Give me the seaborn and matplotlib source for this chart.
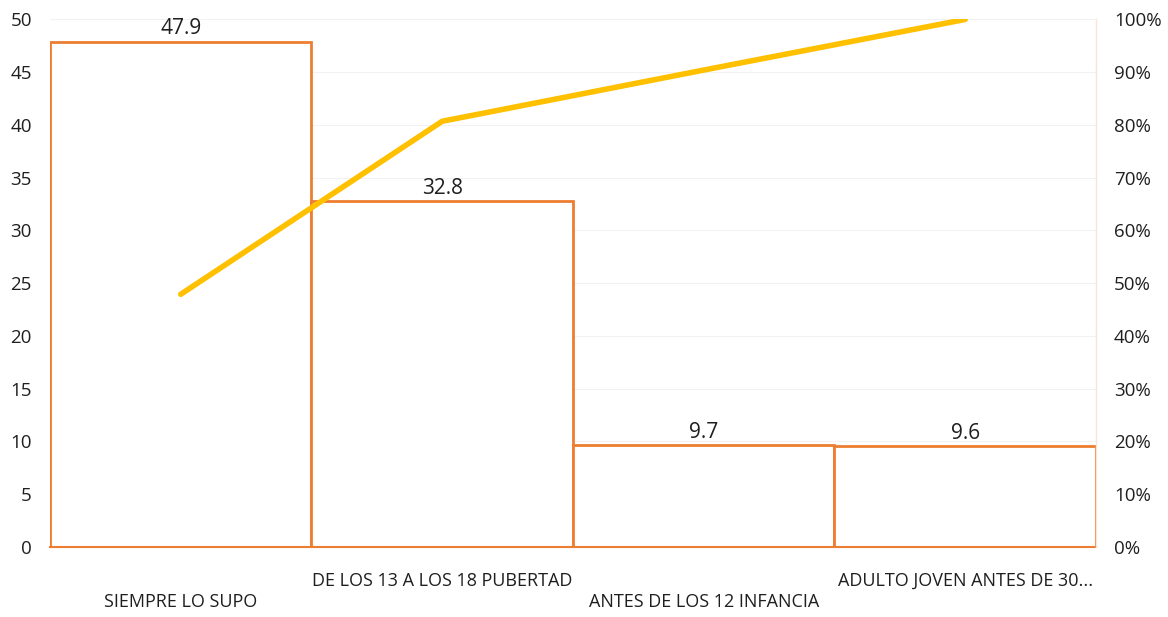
import numpy as np
import pandas as pd
import matplotlib
matplotlib.use('Agg')
import matplotlib.pyplot as plt
import seaborn as sns
from matplotlib.ticker import PercentFormatter

# ── Data ───────────────────────────────────────────────────────────────
categories = ['SIEMPRE LO SUPO', 'DE LOS 13 A LOS 18 PUBERTAD',
              'ANTES DE LOS 12 INFANCIA', 'ADULTO JOVEN ANTES DE 30...']
values     = [47.9, 32.8, 9.7, 9.6]
cumulative = [47.9, 80.7, 90.4, 100.0]

BAR_EDGE  = '#ED7D31'
LINE_COL  = '#FFC000'
TEXT_COL  = '#1f1f1f'

sns.set_theme(style='white')
plt.rcParams['font.family'] = ['Open Sans', 'DejaVu Sans']

df = pd.DataFrame({'cat': categories, 'val': values, 'cum': cumulative})

fig = plt.figure(figsize=(11.68, 6.17), dpi=100)
ax = fig.add_axes([0.0428, 0.1135, 0.8955, 0.855])

sns.barplot(data=df, x='cat', y='val', ax=ax, width=1.0,
            color='white', edgecolor=BAR_EDGE, linewidth=2)

ax.set_ylim(0, 50)
ax.set_xlim(-0.5, 3.5)
ax.set_yticks(range(0, 51, 5))
ax.yaxis.grid(True, color='#f2f2f2', linewidth=0.8)
ax.set_axisbelow(True)
ax.set_xlabel('')
ax.set_ylabel('')

# value labels on bars
for i, v in enumerate(values):
    ax.text(i, v + 0.2, f'{v}', ha='center', va='bottom',
            fontsize=15, color=TEXT_COL)

# staggered category labels
ax.set_xticks(range(len(categories)))
ax.set_xticklabels([('\n' + c) if i % 2 == 0 else c
                    for i, c in enumerate(categories)])
ax.tick_params(axis='x', length=0, pad=18, labelsize=13, labelcolor=TEXT_COL)
ax.tick_params(axis='y', length=0, pad=13, labelsize=13.5, labelcolor=TEXT_COL)

for s in ['top', 'right', 'left']:
    ax.spines[s].set_visible(False)
ax.spines['bottom'].set_color(BAR_EDGE)
ax.spines['bottom'].set_linewidth(1.5)

# cumulative % line
ax2 = ax.twinx()
sns.lineplot(data=df, x='cat', y='cum', ax=ax2, color=LINE_COL,
             linewidth=4, sort=False)
ax2.set_ylim(0, 100)
ax2.set_yticks(range(0, 101, 10))
ax2.yaxis.set_major_formatter(PercentFormatter(decimals=0))
ax2.set_ylabel('')
ax2.set_xlabel('')
ax2.tick_params(axis='y', length=0, pad=13, labelsize=13.5, labelcolor=TEXT_COL)
for s in ['top', 'left', 'bottom']:
    ax2.spines[s].set_visible(False)
ax2.spines['right'].set_color('#fbe5d6')
ax2.spines['right'].set_linewidth(1)

fig.savefig('out.png', dpi=100, facecolor='white')
